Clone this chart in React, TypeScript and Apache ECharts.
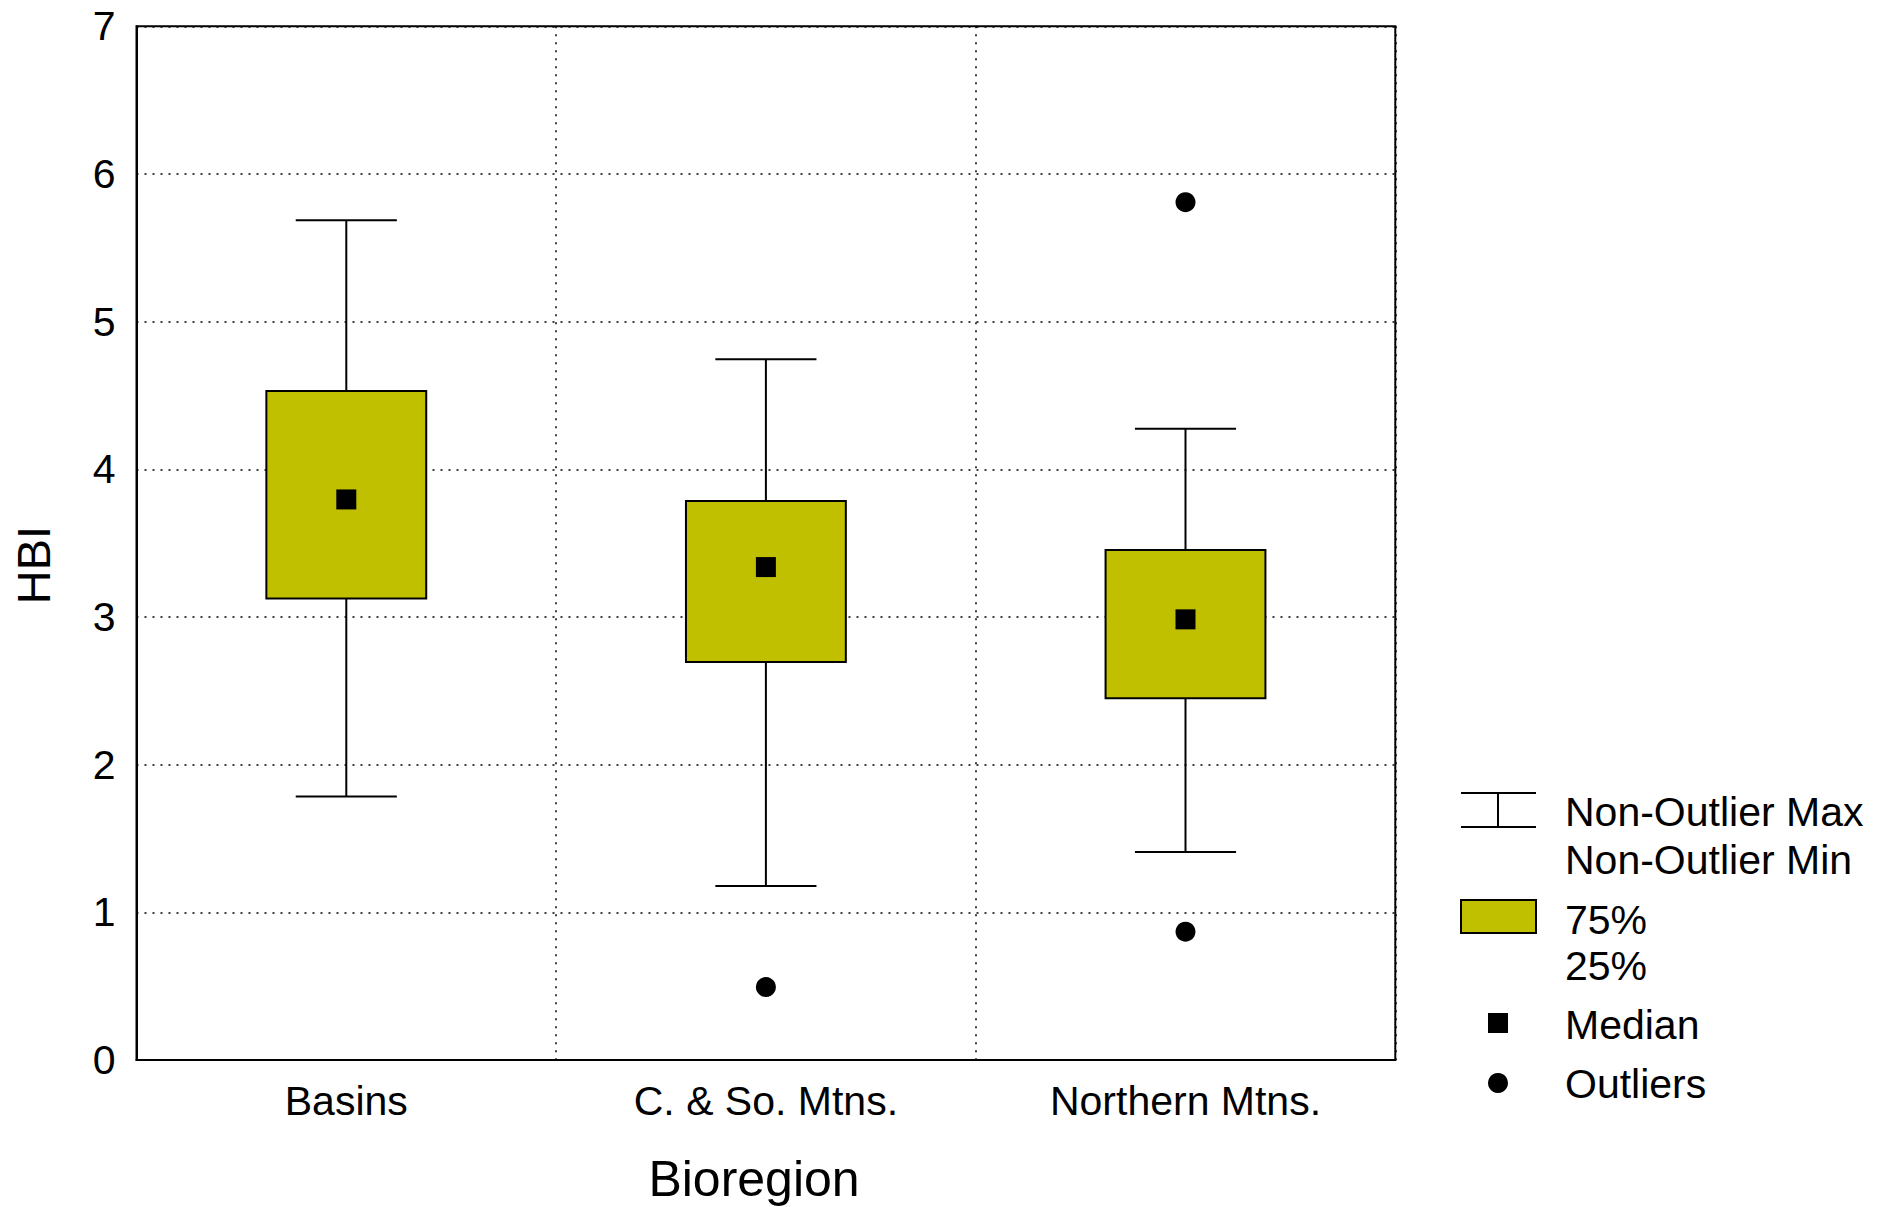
import React, { useEffect, useRef } from "react";
import * as echarts from "echarts";

const categories = ["Basins", "C. & So. Mtns.", "Northern Mtns."];
const whiskerMin = [1.785, 1.178, 1.408];
const q1 = [3.126, 2.695, 2.449];
const q3 = [4.53, 3.785, 3.453];
const whiskerMax = [5.687, 4.746, 4.274];
const medians = [3.796, 3.338, 2.984];
const outliers: [number, number][] = [
  [1, 0.494],
  [2, 5.809],
  [2, 0.869],
];
const yTicks = { min: 0, max: 7, interval: 1 };
const legendLabels = ["Non-Outlier Max", "Non-Outlier Min", "75%", "25%", "Median", "Outliers"];

const FONT = "'Liberation Sans', Arial, sans-serif";
const BOX_FILL = "#c0c000";

export default function App() {
  const ref = useRef<HTMLDivElement>(null);

  useEffect(() => {
    if (!ref.current) return;
    const chart = echarts.init(ref.current, null, { renderer: "svg" });

    const boxData = categories.map((_, i) => [i, whiskerMin[i], q1[i], q3[i], whiskerMax[i]]);
    const medianData = categories.map((_, i) => [i, medians[i]]);

    const lineStyle = { stroke: "#000", lineWidth: 2 };
    const legendTextStyle = (text: string, y: number) => ({
      type: "text",
      x: 1565,
      y,
      style: {
        text,
        fill: "#000",
        font: `41px ${FONT}`,
        textAlign: "left",
        textVerticalAlign: "middle",
        verticalAlign: "middle",
      },
    });

    chart.setOption({
      animation: false,
      backgroundColor: "#fff",
      grid: {
        left: 136.5,
        right: 482.7,
        top: 26.3,
        bottom: 147,
        show: true,
        borderColor: "#000",
        borderWidth: 2,
        backgroundColor: "transparent",
      },
      xAxis: {
        type: "category",
        data: categories,
        boundaryGap: true,
        axisLine: { show: true, lineStyle: { color: "#000", width: 2 } },
        axisTick: { show: false },
        axisLabel: {
          color: "#000",
          fontFamily: FONT,
          fontSize: 41,
          margin: 20,
          interval: 0,
        },
        splitLine: {
          show: true,
          interval: 0,
          lineStyle: { color: "#000", width: 1.5, type: [2, 6] },
        },
      },
      yAxis: {
        type: "value",
        min: yTicks.min,
        max: yTicks.max,
        interval: yTicks.interval,
        axisLine: { show: true, lineStyle: { color: "#000", width: 2 } },
        axisTick: { show: false },
        axisLabel: {
          color: "#000",
          fontFamily: FONT,
          fontSize: 41,
          margin: 21,
        },
        splitLine: {
          show: true,
          lineStyle: { color: "#000", width: 1.5, type: [2, 6] },
        },
      },
      series: [
        {
          type: "custom",
          z: 2,
          data: boxData,
          encode: { x: 0, y: [1, 2, 3, 4] },
          renderItem: (params: any, api: any) => {
            const x = api.value(0);
            const pMin = api.coord([x, api.value(1)]);
            const pQ1 = api.coord([x, api.value(2)]);
            const pQ3 = api.coord([x, api.value(3)]);
            const pMax = api.coord([x, api.value(4)]);
            const band = api.size([1, 0])[0];
            const bw = band * 0.381;
            const cw = band * 0.241;
            const cx = pQ1[0];
            return {
              type: "group",
              children: [
                { type: "line", shape: { x1: cx, y1: pMax[1], x2: cx, y2: pQ3[1] }, style: lineStyle },
                { type: "line", shape: { x1: cx, y1: pQ1[1], x2: cx, y2: pMin[1] }, style: lineStyle },
                { type: "line", shape: { x1: cx - cw / 2, y1: pMax[1], x2: cx + cw / 2, y2: pMax[1] }, style: lineStyle },
                { type: "line", shape: { x1: cx - cw / 2, y1: pMin[1], x2: cx + cw / 2, y2: pMin[1] }, style: lineStyle },
                {
                  type: "rect",
                  shape: { x: cx - bw / 2, y: pQ3[1], width: bw, height: pQ1[1] - pQ3[1] },
                  style: { fill: BOX_FILL, stroke: "#000", lineWidth: 2 },
                },
              ],
            };
          },
        },
        {
          type: "scatter",
          z: 3,
          data: medianData,
          symbol: "rect",
          symbolSize: 20,
          itemStyle: { color: "#000", opacity: 1 },
        },
        {
          type: "scatter",
          z: 3,
          data: outliers,
          symbol: "circle",
          symbolSize: 20,
          itemStyle: { color: "#000", opacity: 1 },
        },
      ],
      graphic: [
        {
          type: "text",
          x: 33,
          y: 565,
          rotation: Math.PI / 2,
          style: {
            text: "HBI",
            fill: "#000",
            font: `47px ${FONT}`,
            textAlign: "center",
            textVerticalAlign: "middle",
            verticalAlign: "middle",
          },
        },
        {
          type: "text",
          x: 754,
          y: 1179,
          style: {
            text: "Bioregion",
            fill: "#000",
            font: `50px ${FONT}`,
            textAlign: "center",
            textVerticalAlign: "middle",
            verticalAlign: "middle",
          },
        },
        { type: "line", shape: { x1: 1461, y1: 793, x2: 1536, y2: 793 }, style: lineStyle },
        { type: "line", shape: { x1: 1461, y1: 827, x2: 1536, y2: 827 }, style: lineStyle },
        { type: "line", shape: { x1: 1498, y1: 793, x2: 1498, y2: 827 }, style: lineStyle },
        {
          type: "rect",
          shape: { x: 1461, y: 900, width: 75, height: 33 },
          style: { fill: BOX_FILL, stroke: "#000", lineWidth: 2 },
        },
        { type: "rect", shape: { x: 1488, y: 1013, width: 20, height: 20 }, style: { fill: "#000" } },
        { type: "circle", shape: { cx: 1498, cy: 1083, r: 10 }, style: { fill: "#000" } },
        legendTextStyle(legendLabels[0], 812),
        legendTextStyle(legendLabels[1], 860),
        legendTextStyle(legendLabels[2], 920),
        legendTextStyle(legendLabels[3], 966),
        legendTextStyle(legendLabels[4], 1025),
        legendTextStyle(legendLabels[5], 1084),
      ],
    });

    return () => chart.dispose();
  }, []);

  return (
    <div
      ref={ref}
      style={{ position: "fixed", left: 0, top: 0, width: 1878, height: 1207, background: "#fff" }}
    />
  );
}
